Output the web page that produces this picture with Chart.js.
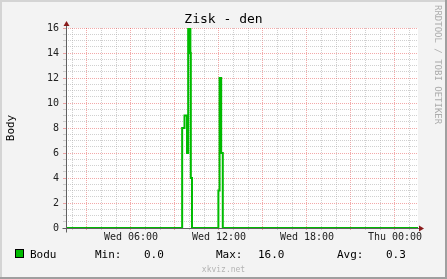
<!DOCTYPE html>
<html>
<head>
<meta charset="utf-8">
<script src="https://cdn.jsdelivr.net/npm/chart.js@4/dist/chart.umd.min.js"></script>
<style>
    html, body { margin: 0; padding: 0; background: #f3f3f3; }
    #graf { display: block; }
</style>
</head>
<body>
<canvas id="graf" width="447" height="279"></canvas>
<script>
// Data: hodiny od St 00:00, hodnota platí až do dalšího bodu
var casy = [1.57, 9.49, 9.65, 9.82, 9.90, 9.98, 10.02, 10.05, 10.08, 10.16, 11.96, 12.04, 12.15, 12.26, 25.57];
var body = [0, 8, 9, 6, 16, 14, 16, 14, 4, 0, 3, 12, 6, 0, 0];

// Popisky os
var hodiny = [2, 3, 4, 5, 6, 7, 8, 9, 10, 11, 12, 13, 14, 15, 16, 17, 18, 19, 20, 21, 22, 23, 24, 25];
var popiskyX = { 6: 'Wed 06:00', 12: 'Wed 12:00', 18: 'Wed 18:00', 24: 'Thu 00:00' };
var popiskyY = [0, 2, 4, 6, 8, 10, 12, 14, 16];

// Legenda pod grafem
var nazevRady = 'Bodu';
var souhrn = [['Min:', '0.0'], ['Max:', '16.0'], ['Avg:', '0.3']];

var ZELENA = '#00bb00';
var MRIZKA = 'rgba(170, 170, 170, 0.55)';
var MRIZKA_HLAVNI = 'rgba(225, 40, 40, 0.4)';
var PISMO = 'DejaVu Sans Mono';

var rrdVzhled = {
    id: 'rrdVzhled',
    beforeDraw: function (chart) {
        var c = chart.ctx, a = chart.chartArea;
        c.save();
        c.fillStyle = '#f3f3f3';
        c.fillRect(0, 0, chart.width, chart.height);
        // rámeček
        c.fillStyle = '#d4d4d4';
        c.fillRect(0, 0, chart.width, 2);
        c.fillRect(0, 0, 2, chart.height);
        c.fillStyle = '#9f9f9f';
        c.fillRect(0, chart.height - 2, chart.width, 2);
        c.fillRect(chart.width - 2, 0, 2, chart.height);
        c.fillStyle = '#ffffff';
        c.fillRect(a.left, a.top, a.right - a.left, a.bottom - a.top);
        c.restore();
    },
    afterDatasetsDraw: function (chart) {
        var c = chart.ctx, a = chart.chartArea;
        var x0 = a.left + 0.5, y0 = a.bottom + 0.5;
        c.save();
        c.strokeStyle = '#606060';
        c.lineWidth = 1;
        c.beginPath();
        c.moveTo(x0, y0 + 4);
        c.lineTo(x0, a.top - 4);
        c.moveTo(x0 - 4, y0);
        c.lineTo(a.right + 2, y0);
        c.stroke();
        // šipky
        c.fillStyle = '#8a1c1c';
        c.beginPath();
        c.moveTo(x0, a.top - 7);
        c.lineTo(x0 - 3, a.top - 2);
        c.lineTo(x0 + 3, a.top - 2);
        c.closePath();
        c.fill();
        c.beginPath();
        c.moveTo(a.right + 6, y0);
        c.lineTo(a.right + 1, y0 - 3);
        c.lineTo(a.right + 1, y0 + 3);
        c.closePath();
        c.fill();
        c.restore();
    },
    afterDraw: function (chart) {
        var c = chart.ctx, a = chart.chartArea;
        c.save();
        c.fillStyle = '#000';
        c.textBaseline = 'alphabetic';
        c.textAlign = 'center';
        c.font = '13px "' + PISMO + '"';
        c.fillText('Zisk - den', chart.width / 2, 23);

        // popis osy Y
        c.save();
        c.translate(11, (a.top + a.bottom) / 2);
        c.rotate(-Math.PI / 2);
        c.textBaseline = 'middle';
        c.font = '11px "' + PISMO + '"';
        c.fillText('Body', 0, 0);
        c.restore();

        // vodoznak vpravo
        c.save();
        c.translate(437.5, 5);
        c.rotate(Math.PI / 2);
        c.textAlign = 'left';
        c.textBaseline = 'middle';
        c.fillStyle = '#acacac';
        c.font = '9px "' + PISMO + '"';
        c.fillText('RRDTOOL / TOBI OETIKER', 0, 0);
        c.restore();

        // legenda
        c.fillStyle = ZELENA;
        c.fillRect(15.5, 249.5, 8, 8);
        c.strokeStyle = '#000';
        c.lineWidth = 1;
        c.strokeRect(15.5, 249.5, 8, 8);
        c.fillStyle = '#000';
        c.textAlign = 'left';
        c.font = '11px "' + PISMO + '"';
        c.fillText(nazevRady, 30, 257.5);
        var xPopis = [95, 216, 337], xHodnota = [144, 258, 386];
        for (var i = 0; i < souhrn.length; i++) {
            c.fillText(souhrn[i][0], xPopis[i], 257.5);
            c.fillText(souhrn[i][1], xHodnota[i], 257.5);
        }

        c.textAlign = 'center';
        c.fillStyle = '#b4b4b4';
        c.font = '8px "' + PISMO + '"';
        c.fillText('xkviz.net', chart.width / 2, 271.5);
        c.restore();
    }
};

var ctx = document.getElementById('graf').getContext('2d');
var myChart = new Chart(ctx, {
    type: 'line',
    data: {
        datasets: [{
            label: nazevRady,
            data: casy.map(function (t, i) { return { x: t, y: body[i] }; }),
            stepped: true,
            borderColor: ZELENA,
            borderWidth: 2,
            pointRadius: 0,
            fill: false
        }]
    },
    options: {
        responsive: false,
        animation: false,
        events: [],
        layout: { padding: { left: 0, right: 29, top: 28, bottom: 30 } },
        plugins: { legend: { display: false }, tooltip: { enabled: false }, title: { display: false } },
        scales: {
            x: {
                type: 'linear',
                min: casy[0],
                max: casy[casy.length - 1],
                afterBuildTicks: function (s) { s.ticks = hodiny.map(function (v) { return { value: v }; }); },
                afterFit: function (s) { s.height = 21; },
                grid: {
                    color: function (c) { return c.tick && c.tick.value % 3 === 0 ? MRIZKA_HLAVNI : MRIZKA; },
                    lineWidth: 1,
                    tickLength: 2
                },
                border: { display: false, dash: [1, 1] },
                ticks: {
                    autoSkip: false,
                    maxRotation: 0,
                    padding: 1,
                    color: '#222',
                    font: { family: PISMO, size: 10 },
                    callback: function (v) { return popiskyX[v] || ''; }
                }
            },
            y: {
                min: 0,
                max: 16,
                afterBuildTicks: function (s) {
                    var t = [];
                    for (var v = 0; v <= 16; v += 0.5) t.push({ value: v });
                    s.ticks = t;
                },
                afterFit: function (s) { s.width = 66; },
                grid: {
                    color: function (c) { return c.tick && c.tick.value % 2 === 0 ? MRIZKA_HLAVNI : MRIZKA; },
                    lineWidth: 1,
                    tickLength: 3
                },
                border: { display: false, dash: [1, 1] },
                ticks: {
                    autoSkip: false,
                    padding: 4,
                    color: '#222',
                    font: { family: PISMO, size: 10 },
                    callback: function (v) { return popiskyY.indexOf(v) >= 0 ? String(v) : ''; }
                }
            }
        }
    },
    plugins: [rrdVzhled]
});
</script>
</body>
</html>
